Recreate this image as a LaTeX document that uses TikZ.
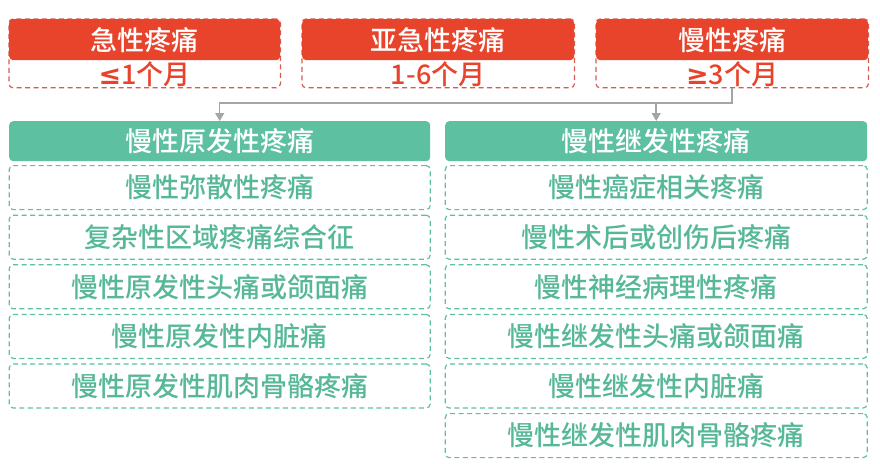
\documentclass[tikz,border=0pt]{standalone}
\usepackage{fontspec}
\setmainfont{Noto Sans CJK SC}[BoldFont={Noto Sans CJK SC Medium}]
\newfontfamily\symfont{DejaVu Sans}
\usepackage{tikz}
\usetikzlibrary{arrows.meta,positioning,fit,backgrounds}
\usepackage{xcolor}
\definecolor{pnred}{RGB}{232,67,43}
\definecolor{pnredline}{RGB}{212,92,80}
\definecolor{pngreen}{RGB}{92,192,161}
\definecolor{pntext}{RGB}{86,184,152}
\definecolor{pngray}{RGB}{165,165,165}
\tikzstyle{redhead} = [rectangle, rounded corners=4pt, minimum width=271pt, minimum height=41pt, inner sep=0pt, fill=pnred, text=white, font=\fontsize{27}{27}\selectfont\bfseries, anchor=north west]
\tikzstyle{durtext} = [rectangle, minimum width=271pt, minimum height=27pt, inner sep=0pt, text=pnred, font=\fontsize{27}{27}\selectfont\bfseries]
\tikzstyle{durbox} = [rectangle, rounded corners=4pt, inner sep=0pt, draw=pnredline, line width=1.2pt, dash pattern=on 5pt off 3.5pt]
\tikzstyle{greenhead} = [rectangle, rounded corners=4pt, minimum height=40pt, inner sep=0pt, fill=pngreen, text=white, font=\fontsize{27}{27}\selectfont\bfseries, anchor=north west]
\tikzstyle{itembox} = [rectangle, rounded corners=4pt, minimum height=44pt, inner sep=0pt, draw=pngreen, line width=1.2pt, dash pattern=on 5pt off 3.5pt, text=pntext, font=\fontsize{27}{27}\selectfont\bfseries]
\tikzstyle{link} = [line width=1.5pt, color=pngray, -{Triangle[width=9pt,length=8pt]}]

\begin{document}
\begin{tikzpicture}[x=1pt,y=-1pt]
\useasboundingbox (0,0) rectangle (880,463);
% Duration of pain
\node[redhead] (acute) at (9,19) {急性疼痛};
\node[durtext, below=0pt of acute] (acutetime) {{\symfont ≤}1个月};
\node[redhead, minimum width=272pt] (subacute) at (302,19) {亚急性疼痛};
\node[durtext, minimum width=272pt, below=0pt of subacute] (subacutetime) {1-6个月};
\node[redhead, minimum width=272pt] (chronic) at (596,19) {慢性疼痛};
\node[durtext, minimum width=272pt, below=0pt of chronic] (chronictime) {{\symfont ≥}3个月};
\begin{scope}[on background layer]
\node[durbox, fit=(acute)(acutetime)] (acutebox) {};
\node[durbox, fit=(subacute)(subacutetime)] (subacutebox) {};
\node[durbox, fit=(chronic)(chronictime)] (chronicbox) {};
\end{scope}

% Primary and secondary chronic pain
\node[greenhead, minimum width=421pt] (primary) at (9,121) {慢性原发性疼痛};
\node[greenhead, minimum width=422pt] (secondary) at (445,121) {慢性继发性疼痛};

\node[itembox, minimum width=421pt, below=3.6pt of primary] (p1) {慢性弥散性疼痛};
\node[itembox, minimum width=421pt, below=4.4pt of p1] (p2) {复杂性区域疼痛综合征};
\node[itembox, minimum width=421pt, below=4.4pt of p2] (p3) {慢性原发性头痛或颌面痛};
\node[itembox, minimum width=421pt, below=4.4pt of p3] (p4) {慢性原发性内脏痛};
\node[itembox, minimum width=421pt, below=4.4pt of p4] (p5) {慢性原发性肌肉骨骼疼痛};

\node[itembox, minimum width=422pt, below=3.6pt of secondary] (s1) {慢性癌症相关疼痛};
\node[itembox, minimum width=422pt, below=4.4pt of s1] (s2) {慢性术后或创伤后疼痛};
\node[itembox, minimum width=422pt, below=4.4pt of s2] (s3) {慢性神经病理性疼痛};
\node[itembox, minimum width=422pt, below=4.4pt of s3] (s4) {慢性继发性头痛或颌面痛};
\node[itembox, minimum width=422pt, below=4.4pt of s4] (s5) {慢性继发性内脏痛};
\node[itembox, minimum width=422pt, below=4.4pt of s5] (s6) {慢性继发性肌肉骨骼疼痛};

\coordinate (split) at (0,103);
\draw[link] (chronicbox.south) |- (split -| primary.north) -- (primary.north);
\draw[link] (split -| secondary.north) -- (secondary.north);
\end{tikzpicture}
\end{document}
